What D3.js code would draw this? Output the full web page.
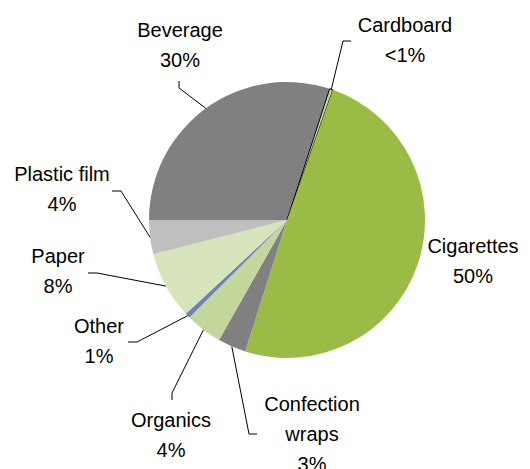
<!DOCTYPE html>
<html>
<head>
<meta charset="utf-8">
<script src="https://cdn.jsdelivr.net/npm/d3@7"></script>
<style>
  html, body { margin: 0; padding: 0; background: #fff; }
  svg { display: block; }
  text { font-family: "Liberation Sans", Arial, sans-serif; font-size: 20px; fill: #000; }
</style>
</head>
<body>
<svg id="chart" width="530" height="469"></svg>
<script>
// Litter composition by category (percent share)
const categories = ["Beverage", "Cardboard", "Cigarettes", "Confection wraps", "Organics", "Other", "Paper", "Plastic film"];
const shares     = [30.0, 0.4, 49.5, 3.3, 4.3, 0.6, 7.9, 4.0];
const sliceColors = ["#808080", "#c3d69b", "#9bbb47", "#808080", "#c3d69b", "#7080b8", "#d8e4bc", "#bfbfbf"];

// Label layout: text centre x, first baseline y, leader elbow and stub end
const labelLines = [["Beverage"], ["Cardboard"], ["Cigarettes"], ["Confection", "wraps"], ["Organics"], ["Other"], ["Paper"], ["Plastic film"]];
const labelPos = [[180, 37], [405, 32], [473, 253], [312, 411], [171, 427], [99, 333], [58, 263], [62, 181]];
const leaderElbow = [[179, 88], [343, 41], null, [249, 434], [172, 393], [137, 342], [97, 273], [121, 191]];
const leaderStub  = [[179, 81], [351, 41], null, [257, 434], [172, 400], [128, 342], [88, 273], [112, 191]];

const cx = 287, cy = 220, radius = 138, lineGap = 30;

const svg = d3.select("#chart");
const g = svg.append("g").attr("transform", `translate(${cx},${cy})`);

const pie = d3.pie()
  .sort(null)
  .value(d => d.value)
  .startAngle(-Math.PI / 2)
  .endAngle(3 * Math.PI / 2);

const rows = categories.map((c, i) => ({ name: c, value: shares[i], color: sliceColors[i], idx: i }));
const arcs = pie(rows);
const arc = d3.arc().innerRadius(0).outerRadius(radius);

g.selectAll("path.slice")
  .data(arcs)
  .join("path")
  .attr("class", "slice")
  .attr("d", arc)
  .attr("fill", d => d.data.color)
  .attr("stroke", d => d.data.name === "Cardboard" ? "#000" : "none")
  .attr("stroke-width", 1);

// Leader lines: from the slice's outer edge at its mid-angle to the label
arcs.forEach(a => {
  const i = a.data.idx;
  if (!leaderElbow[i]) return;
  const mid = (a.startAngle + a.endAngle) / 2;
  const ex = cx + radius * Math.sin(mid);
  const ey = cy - radius * Math.cos(mid);
  svg.append("polyline")
    .attr("points", [[ex, ey], leaderElbow[i], leaderStub[i]].map(p => p.join(",")).join(" "))
    .attr("fill", "none")
    .attr("stroke", "#000")
    .attr("stroke-width", 1);
});

// Category name plus rounded percentage
const pctText = v => v < 0.5 ? "<1%" : Math.round(v) + "%";
arcs.forEach(a => {
  const i = a.data.idx;
  const lines = labelLines[i].concat([pctText(a.data.value)]);
  const t = svg.append("text")
    .attr("text-anchor", "middle")
    .attr("x", labelPos[i][0])
    .attr("y", labelPos[i][1]);
  lines.forEach((s, k) => {
    t.append("tspan")
      .attr("x", labelPos[i][0])
      .attr("y", labelPos[i][1] + k * lineGap)
      .text(s);
  });
});
</script>
</body>
</html>
